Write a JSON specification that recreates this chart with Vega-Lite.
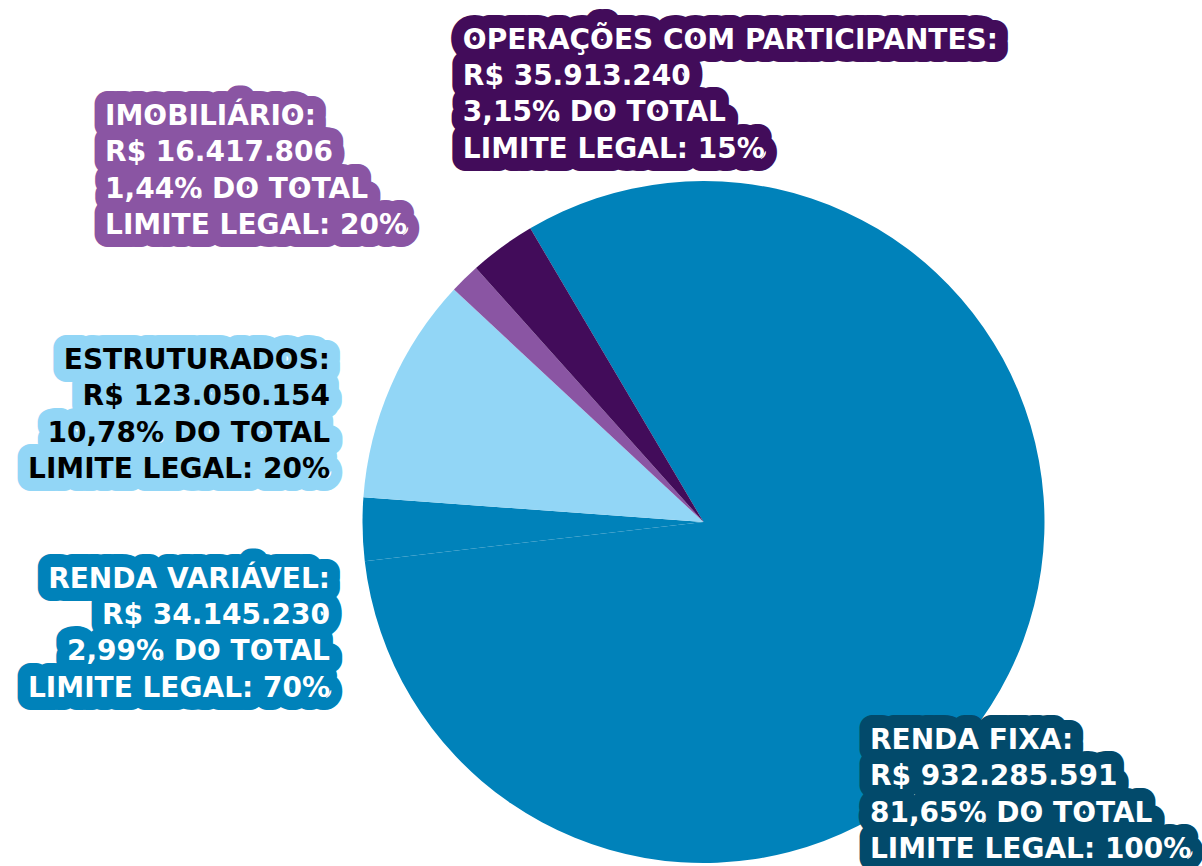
{
  "$schema": "https://vega.github.io/schema/vega-lite/v6.json",
  "width": 997,
  "height": 688,
  "autosize": {"type": "none"},
  "padding": {"left": 205, "top": 178, "right": 0, "bottom": 0},
  "background": "#ffffff",
  "config": {
    "view": {"stroke": null},
    "text": {"baseline": "alphabetic", "radius": 341, "font": "DejaVu Sans", "fontWeight": "bold", "fontSize": 28, "lineHeight": 36.3, "lineBreak": "\n", "strokeJoin": "round"}
  },
  "data": {
    "values": [
      {"categoria": "Renda Fixa", "ordem": 1, "valor": 932285591, "rotulo": "RENDA FIXA:\nR$ 932.285.591\n81,65% DO TOTAL\nLIMITE LEGAL: 100%"},
      {"categoria": "Renda Variável", "ordem": 2, "valor": 34145230, "rotulo": "RENDA VARIÁVEL:\nR$ 34.145.230\n2,99% DO TOTAL\nLIMITE LEGAL: 70%"},
      {"categoria": "Estruturados", "ordem": 3, "valor": 123050154, "rotulo": "ESTRUTURADOS:\nR$ 123.050.154\n10,78% DO TOTAL\nLIMITE LEGAL: 20%"},
      {"categoria": "Imobiliário", "ordem": 4, "valor": 16417806, "rotulo": "IMOBILIÁRIO:\nR$ 16.417.806\n1,44% DO TOTAL\nLIMITE LEGAL: 20%"},
      {"categoria": "Operações com participantes", "ordem": 5, "valor": 35913240, "rotulo": "OPERAÇÕES COM PARTICIPANTES:\nR$ 35.913.240\n3,15% DO TOTAL\nLIMITE LEGAL: 15%"}
    ]
  },
  "transform": [
    {"stack": "valor", "groupby": [], "sort": [{"field": "ordem", "order": "ascending"}], "as": ["v0", "v1"]}
  ],
  "encoding": {
    "theta": {"field": "v0", "type": "quantitative", "stack": null, "scale": {"domain": [0, 1141812021], "range": [-0.5329, 5.7503]}},
    "text": {"field": "rotulo", "type": "nominal"}
  },
  "layer": [
    {
      "mark": {"type": "arc", "radius": 341},
      "encoding": {
        "theta2": {"field": "v1"},
        "color": {
          "field": "categoria", "type": "nominal", "legend": null,
          "scale": {
            "domain": ["Renda Fixa", "Renda Variável", "Estruturados", "Imobiliário", "Operações com participantes"],
            "range": ["#0082BA", "#0082BA", "#92D6F6", "#8A55A3", "#420C5A"]
          }
        }
      }
    },
    {"transform": [{"filter": "datum.ordem === 5"}], "mark": {"type": "text", "align": "left", "dx": -13.1, "dy": -219.4, "fill": "#420C5A", "stroke": "#420C5A", "strokeWidth": 26}},
    {"transform": [{"filter": "datum.ordem === 5"}], "mark": {"type": "text", "align": "left", "dx": -13.1, "dy": -219.4, "fill": "#ffffff"}},

    {"transform": [{"filter": "datum.ordem === 4"}], "mark": {"type": "text", "align": "left", "dx": -348.9, "dy": -164.4, "fill": "#8A55A3", "stroke": "#8A55A3", "strokeWidth": 26}},
    {"transform": [{"filter": "datum.ordem === 4"}], "mark": {"type": "text", "align": "left", "dx": -348.9, "dy": -164.4, "fill": "#ffffff"}},

    {"transform": [{"filter": "datum.ordem === 3"}], "mark": {"type": "text", "align": "right", "dx": -33.4, "dy": -128.0, "fill": "#92D6F6", "stroke": "#92D6F6", "strokeWidth": 26}},
    {"transform": [{"filter": "datum.ordem === 3"}], "mark": {"type": "text", "align": "right", "dx": -33.4, "dy": -128.0, "fill": "#000000"}},

    {"transform": [{"filter": "datum.ordem === 2"}], "mark": {"type": "text", "align": "right", "dx": -34.8, "dy": 26.6, "fill": "#0082BA", "stroke": "#0082BA", "strokeWidth": 26}},
    {"transform": [{"filter": "datum.ordem === 2"}], "mark": {"type": "text", "align": "right", "dx": -34.8, "dy": 26.6, "fill": "#ffffff"}},

    {"transform": [{"filter": "datum.ordem === 1"}], "mark": {"type": "text", "align": "left", "dx": 339.7, "dy": 520.9, "fill": "#024A6B", "stroke": "#024A6B", "strokeWidth": 26}},
    {"transform": [{"filter": "datum.ordem === 1"}], "mark": {"type": "text", "align": "left", "dx": 339.7, "dy": 520.9, "fill": "#ffffff"}}
  ]
}
